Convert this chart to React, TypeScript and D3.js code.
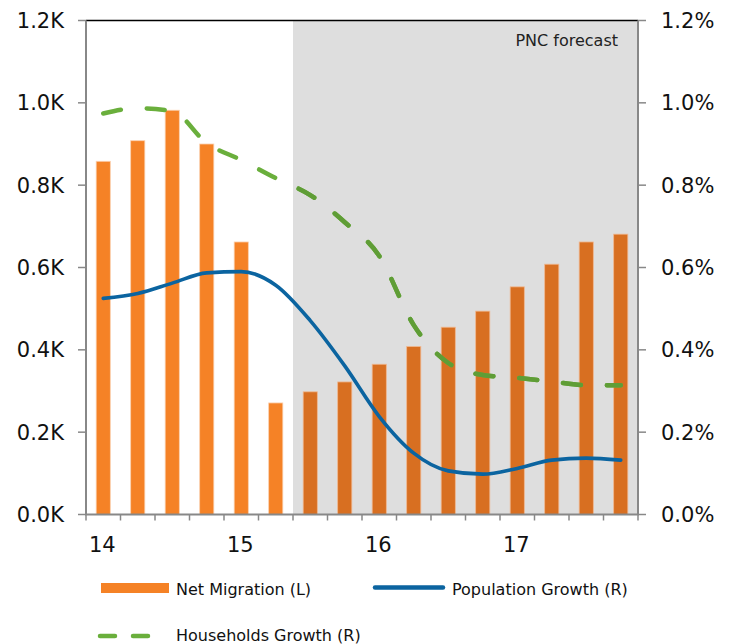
import React from "react";
import * as d3 from "d3";

// Quarterly series, 2014 Q1 – 2017 Q4
const quarters = [
  "14Q1", "14Q2", "14Q3", "14Q4",
  "15Q1", "15Q2", "15Q3", "15Q4",
  "16Q1", "16Q2", "16Q3", "16Q4",
  "17Q1", "17Q2", "17Q3", "17Q4",
];
const netMigration = [
  0.858, 0.908, 0.982, 0.9, 0.662, 0.271, 0.298, 0.322,
  0.365, 0.408, 0.455, 0.494, 0.553, 0.608, 0.662, 0.681,
];
const populationGrowth = [
  0.525, 0.537, 0.562, 0.587, 0.59, 0.557, 0.471, 0.361,
  0.238, 0.149, 0.106, 0.098, 0.112, 0.132, 0.137, 0.132,
];
const householdsGrowth = [
  0.974, 0.987, 0.98, 0.902, 0.861, 0.817, 0.776, 0.71,
  0.628, 0.46, 0.368, 0.339, 0.332, 0.323, 0.314, 0.314,
];
const yearLabels = [
  { q: "14Q1", label: "14" },
  { q: "15Q1", label: "15" },
  { q: "16Q1", label: "16" },
  { q: "17Q1", label: "17" },
];
const forecastStart = "15Q3";
const leftTicks = [0, 0.2, 0.4, 0.6, 0.8, 1.0, 1.2];
const rightTicks = [0, 0.2, 0.4, 0.6, 0.8, 1.0, 1.2];

const W = 734;
const H = 644;
const M = { left: 86, right: 638, top: 20.5, bottom: 514.5 };
const FONT = "'DejaVu Sans', Verdana, sans-serif";

export default function App() {
  const x = d3
    .scaleBand<string>()
    .domain(quarters)
    .range([M.left, M.right])
    .paddingInner(0)
    .paddingOuter(0);
  const yL = d3.scaleLinear().domain([0, 1.2]).range([M.bottom, M.top]);
  const yR = d3.scaleLinear().domain([0, 1.2]).range([M.bottom, M.top]);
  const bw = x.bandwidth() * 0.41;
  const cx = (q: string) => (x(q) as number) + x.bandwidth() / 2;

  const line = d3
    .line<number>()
    .x((_, i) => cx(quarters[i]))
    .y((d) => yR(d))
    .curve(d3.curveMonotoneX);

  const fx = x(forecastStart) as number;
  const forecastIdx = quarters.indexOf(forecastStart);

  return (
    <svg
      width={W}
      height={H}
      style={{ position: "absolute", left: 0, top: 0, display: "block", background: "#fff" }}
    >
      {/* forecast shading */}
      <rect x={fx} y={M.top} width={M.right - fx} height={M.bottom - M.top} fill="#dedede" />

      {/* net migration bars */}
      {netMigration.map((v, i) => {
        const q = quarters[i];
        const fc = i >= forecastIdx;
        return (
          <rect
            key={q}
            x={cx(q) - bw / 2}
            y={yL(v)}
            width={bw}
            height={M.bottom - yL(v)}
            fill={fc ? "#d86f21" : "#f58226"}
            stroke={fc ? "#f0b890" : "#fbd0b0"}
            strokeWidth={0.8}
          />
        );
      })}

      {/* households growth (dashed) */}
      <path
        d={line(householdsGrowth) as string}
        fill="none"
        stroke="#6aaf3c"
        strokeWidth={4.5}
        strokeDasharray="18 26"
        strokeLinecap="round"
      />
      {/* darker tone of the dashed line inside the forecast band */}
      <clipPath id="fcClip">
        <rect x={fx} y={M.top} width={M.right - fx} height={M.bottom - M.top} />
      </clipPath>
      <path
        d={line(householdsGrowth) as string}
        fill="none"
        stroke="#5f9d36"
        strokeWidth={4.5}
        strokeDasharray="18 26"
        strokeLinecap="round"
        clipPath="url(#fcClip)"
      />

      {/* population growth */}
      <path
        d={line(populationGrowth) as string}
        fill="none"
        stroke="#0b64a0"
        strokeWidth={3.6}
        strokeLinejoin="round"
        strokeLinecap="round"
      />

      {/* frame */}
      <line x1={M.left} x2={M.right} y1={M.top} y2={M.top} stroke="#000" strokeWidth={1.5} />
      <line x1={M.left} x2={M.left} y1={M.top} y2={M.bottom} stroke="#888" strokeWidth={2} />
      <line x1={M.right} x2={M.right} y1={M.top} y2={M.bottom} stroke="#888" strokeWidth={2} />
      <line x1={M.left - 1} x2={M.right + 1} y1={M.bottom} y2={M.bottom} stroke="#888" strokeWidth={2} />

      {/* left axis */}
      {leftTicks.map((t) => (
        <g key={"l" + t}>
          <line x1={M.left - 8} x2={M.left} y1={yL(t)} y2={yL(t)} stroke="#888" strokeWidth={1.5} />
          <text
            x={64}
            y={yL(t) + 7.5}
            textAnchor="end"
            fontFamily={FONT}
            fontSize={21}
            fill="#111"
          >
            {t.toFixed(1) + "K"}
          </text>
        </g>
      ))}

      {/* right axis */}
      {rightTicks.map((t) => (
        <g key={"r" + t}>
          <line x1={M.right} x2={M.right + 8} y1={yR(t)} y2={yR(t)} stroke="#888" strokeWidth={1.5} />
          <text
            x={661}
            y={yR(t) + 7.5}
            textAnchor="start"
            fontFamily={FONT}
            fontSize={21}
            fill="#111"
          >
            {t.toFixed(1) + "%"}
          </text>
        </g>
      ))}

      {/* bottom axis ticks at quarter boundaries */}
      {[...quarters.map((q) => x(q) as number), M.right].map((px, i) => (
        <line key={"b" + i} x1={px} x2={px} y1={M.bottom} y2={M.bottom + 6} stroke="#888" strokeWidth={1.5} />
      ))}
      {yearLabels.map((d) => (
        <text
          key={d.label}
          x={cx(d.q) - 1}
          y={551.5}
          textAnchor="middle"
          fontFamily={FONT}
          fontSize={21}
          fill="#111"
        >
          {d.label}
        </text>
      ))}

      {/* forecast label */}
      <text x={618} y={46} textAnchor="end" fontFamily={FONT} fontSize={16} fill="#222">
        PNC forecast
      </text>

      {/* legend */}
      <rect x={101} y={583} width={68} height={10} fill="#f58226" />
      <text x={176} y={595} fontFamily={FONT} fontSize={16} fill="#111">
        Net Migration (L)
      </text>
      <line x1={375} x2={443} y1={587.5} y2={587.5} stroke="#0b64a0" strokeWidth={4.5} strokeLinecap="round" />
      <text x={452} y={595} fontFamily={FONT} fontSize={16} fill="#111">
        Population Growth (R)
      </text>
      <line
        x1={100}
        x2={150}
        y1={636}
        y2={636}
        stroke="#6aaf3c"
        strokeWidth={4.5}
        strokeDasharray="15 18"
        strokeLinecap="round"
      />
      <text x={176} y={641} fontFamily={FONT} fontSize={16} fill="#111">
        Households Growth (R)
      </text>
    </svg>
  );
}
